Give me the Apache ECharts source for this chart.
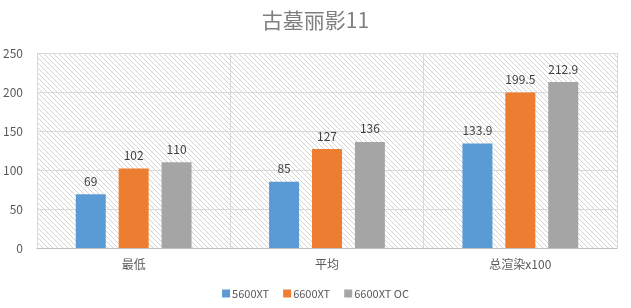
<!DOCTYPE html>
<html><head><meta charset="utf-8">
<script src="https://cdn.jsdelivr.net/npm/echarts@6/dist/echarts.min.js"></script>
<style>html,body{margin:0;padding:0;background:#fff;}#c{width:631px;height:308px;}</style>
</head><body><div id="c"></div>
<script>
const categories = ['最低', '平均', '总渲染x100'];
const seriesNames = ['5600XT', '6600XT', '6600XT OC'];
const s5600xt = [69, 85, 133.9];
const s6600xt = [102, 127, 199.5];
const s6600xtoc = [110, 136, 212.9];
const colors = ['#5B9BD5', '#ED7D31', '#A5A5A5'];

const pc = document.createElement('canvas');
pc.width = 5; pc.height = 5;
const px = pc.getContext('2d');
px.strokeStyle = '#cfcfcf';
px.lineWidth = 0.9;
px.beginPath();
px.moveTo(-1, -1); px.lineTo(6, 6);
px.moveTo(-1, 4); px.lineTo(1, 6);
px.moveTo(4, -1); px.lineTo(6, 1);
px.stroke();

const chart = echarts.init(document.getElementById('c'), null, {renderer: 'canvas'});
const font = '"Noto Sans CJK SC", "Open Sans", sans-serif';
const mk = (name, data, i) => ({
  name, type: 'bar', data, barWidth: 30, barGap: '43%',
  itemStyle: {color: colors[i]},
  label: {show: true, position: 'top', distance: 7, color: '#404040', fontSize: 12, fontFamily: font}
});
chart.setOption({
  animation: false,
  textStyle: {fontFamily: font},
  title: {text: '古墓丽影11', left: 'center', top: 5,
    textStyle: {color: '#7f7f7f', fontSize: 21, fontWeight: 'normal', fontFamily: font}},
  grid: {left: 34, right: 14, top: 53, bottom: 60, show: true, borderWidth: 0,
    backgroundColor: {image: pc, repeat: 'repeat'}},
  legend: {bottom: 4, left: 'center', itemWidth: 8, itemHeight: 8, itemGap: 14,
    icon: 'rect', textStyle: {color: '#595959', fontSize: 11, padding: [0,0,0,-3]},
    data: seriesNames},
  xAxis: {type: 'category', data: categories,
    axisLine: {show: true, lineStyle: {color: '#bfbfbf'}},
    axisTick: {show: false},
    splitLine: {show: true, lineStyle: {color: '#d9d9d9'}},
    axisLabel: {color: '#595959', fontSize: 12, margin: 10}},
  yAxis: {type: 'value', min: 0, max: 250, interval: 50,
    axisLine: {show: false}, axisTick: {show: false},
    splitLine: {lineStyle: {color: '#d9d9d9'}},
    axisLabel: {color: '#595959', fontSize: 12, margin: 14}},
  series: [mk(seriesNames[0], s5600xt, 0), mk(seriesNames[1], s6600xt, 1), mk(seriesNames[2], s6600xtoc, 2)]
});
</script></body></html>
